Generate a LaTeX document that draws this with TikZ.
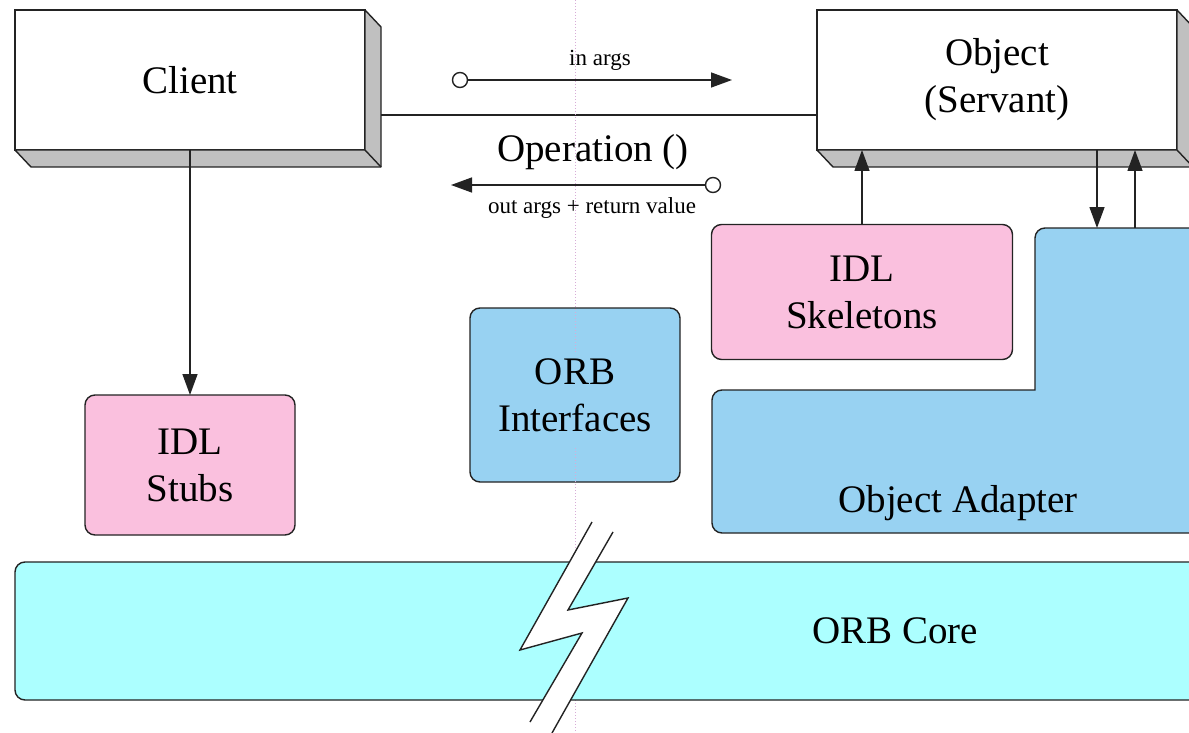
\documentclass[tikz,border=0pt]{standalone}
\usepackage{fontspec}
\setmainfont{Liberation Serif}
\usetikzlibrary{arrows.meta}

\definecolor{slabgray}{RGB}{192,192,192}
\definecolor{idlpink}{RGB}{250,192,222}
\definecolor{orbblue}{RGB}{152,210,242}
\definecolor{corecyan}{RGB}{172,255,255}
\definecolor{splitdot}{RGB}{215,172,215}
\definecolor{edge}{RGB}{35,35,35}

% side and bottom faces of a raised box
\newcommand\slabfaces[1]{%
  \draw[fill=slabgray, line join=round] (#1.north east) -- ++(16,17)
    -- ([shift={(16,17)}]#1.south east) -- ([shift={(16,17)}]#1.south west)
    -- (#1.south west) -- (#1.south east) -- cycle;
  \draw (#1.south east) -- ++(16,17);}

\begin{document}
\begin{tikzpicture}[x=1pt, y=-1pt, line width=1.4pt, draw=edge,
  big/.style={font=\fontsize{39}{47}\selectfont, align=center},
  small/.style={font=\fontsize{23}{26}\selectfont},
  slab/.style={draw=edge, fill=white, big, minimum height=140pt, inner sep=0pt, outer sep=0pt},
  block/.style={draw=edge, rounded corners=10pt, big, inner sep=0pt, outer sep=0pt},
  tip/.style={-{Triangle[length=21pt,width=15pt]}},
  port/.style={circle, draw=edge, fill=white, minimum size=15pt, inner sep=0pt}]
  \clip (0,0) rectangle (1189,733);
  \fill[white] (0,0) rectangle (1189,733);

  % client and servant
  \node[slab, minimum width=350pt] (client) at (190,80) {Client};
  \node[slab, minimum width=360pt] (obj) at (997,80) {Object\\(Servant)};
  \slabfaces{client}
  \slabfaces{obj}
  \coordinate (wire) at ([shift={(16,35)}]client.east);
  \draw (wire) -- (wire -| obj.west);

  % request and reply
  \node[small] (inLbl) at (600,60) {in args};
  \node[port] (inPort) at (460,80) {};
  \coordinate (inEnd) at (732,80);
  \draw[tip] (inPort) -- (inEnd);
  \node[big] (opLbl) at (593,152) {Operation ()};
  \node[port] (outPort) at (713,185) {};
  \coordinate (outEnd) at (451,185);
  \draw[tip] (outPort) -- (outEnd);
  \node[small] (outLbl) at (592,208) {out args + return value};

  % ORB parts
  \node[block, fill=idlpink, minimum width=210pt, minimum height=140pt] (stubs) at (190,465) {IDL\\Stubs};
  \node[block, fill=orbblue, minimum width=210pt, minimum height=174pt] (intf) at (575,395) {ORB\\Interfaces};
  \node[block, fill=idlpink, minimum width=301pt, minimum height=135pt] (skel) at (862,292) {IDL\\Skeletons};
  \draw[fill=orbblue] (1035,300) [rounded corners=10pt] -- (1035,228) -- (1215,228) -- (1215,533)
    -- (712,533) -- (712,390) -- (900,390) [sharp corners] -- (1035,390) -- cycle;
  \node[big] (adapter) at (958,503) {Object Adapter};

  \draw[tip] (client.south) -- (stubs.north);
  \draw[tip] (skel.north) -- (skel.north |- obj.south);
  \coordinate (oaIn) at (1097,228);
  \coordinate (oaOut) at (1135,228);
  \draw[tip] (oaIn |- obj.south) -- (oaIn);
  \draw[tip] (oaOut) -- (oaOut |- obj.south);

  % split between the two sides
  \coordinate (cutTop) at (575,0);
  \coordinate (cutBot) at (575,733);
  \draw[splitdot, line width=1pt, dash pattern=on 1pt off 2pt] (cutTop) -- (575,352) (575,448) -- (cutBot);

  \draw[fill=corecyan, rounded corners=10pt] (15,562) rectangle (1215,700);
  \node[big] (core) at (895,631) {ORB Core};

  % break in the core
  \fill[white] (592,522) -- (520,650) -- (582,633) -- (530,722) -- (552,733)
    -- (628,598) -- (568,610) -- (613,532) -- cycle;
  \draw (592,522) -- (520,650) -- (582,633) -- (530,722);
  \draw (613,532) -- (568,610) -- (628,598) -- (552,733);
\end{tikzpicture}
\end{document}
